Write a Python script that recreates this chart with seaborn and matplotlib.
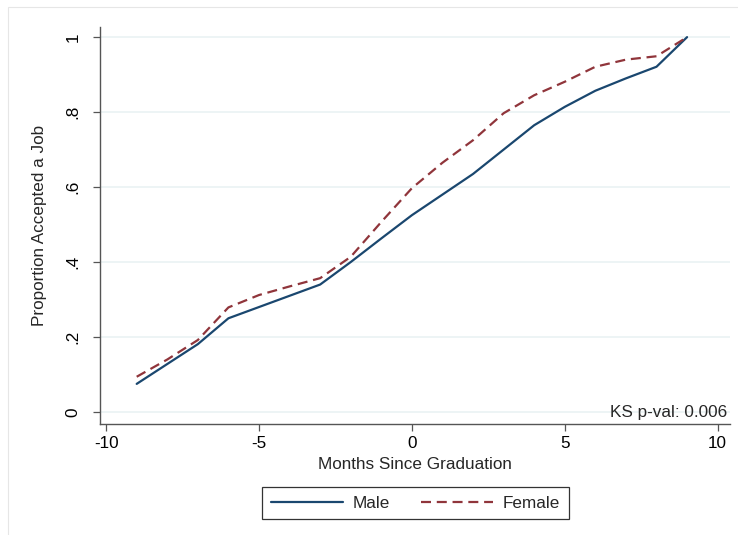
import seaborn as sns
import matplotlib.pyplot as plt
import matplotlib.patches as mpatches
import pandas as pd

# months relative to graduation
months = [-9, -8, -7, -6, -5, -4, -3, -2, -1, 0, 1, 2, 3, 4, 5, 6, 7, 8, 9]

# cumulative share who accepted a job offer
male = [0.075, 0.128, 0.181, 0.25, 0.28, 0.31, 0.34, 0.40, 0.463, 0.525,
        0.58, 0.635, 0.70, 0.765, 0.814, 0.857, 0.89, 0.921, 1.0]
female = [0.094, 0.14, 0.192, 0.279, 0.312, 0.335, 0.357, 0.414, 0.507, 0.597,
          0.665, 0.725, 0.797, 0.845, 0.881, 0.921, 0.94, 0.949, 1.0]

ks_label = "KS p-val: 0.006"
yticks = [0, 0.2, 0.4, 0.6, 0.8, 1.0]
ytick_labels = ["0", ".2", ".4", ".6", ".8", "1"]
xticks = [-10, -5, 0, 5, 10]

df = pd.DataFrame({
    'month': months * 2,
    'share': male + female,
    'sex': ['Male'] * len(months) + ['Female'] * len(months),
})

sns.set_theme(style="white")
plt.rcParams['font.family'] = ['Liberation Sans', 'DejaVu Sans']

fig = plt.figure(figsize=(7.38, 5.35), dpi=100)
ax = fig.add_axes([0.1355, 0.2075, 0.8535, 0.742])

# faint outer frame
fig.patches.append(mpatches.Rectangle((8 / 738, -0.01), 1.0, 1 - 7 / 535 + 0.01,
                                      transform=fig.transFigure, fill=False,
                                      edgecolor='#e6e6e6', linewidth=0.8))

colors = {'Male': '#1a476f', 'Female': '#90353b'}
sns.lineplot(data=df[df['sex'] == 'Male'], x='month', y='share', ax=ax,
             color=colors['Male'], linewidth=1.6, label='Male')
sns.lineplot(data=df[df['sex'] == 'Female'], x='month', y='share', ax=ax,
             color=colors['Female'], linewidth=1.6, linestyle=(0, (4.5, 2.6)),
             label='Female')

ax.set_xlim(-10.2, 10.4)
ax.set_ylim(-0.032, 1.027)
ax.set_yticks(yticks)
ax.set_yticklabels(ytick_labels, rotation=90, va='center')
ax.set_xticks(xticks)
ax.set_xticklabels([str(t) for t in xticks])

ax.grid(axis='y', color='#eaf2f3', linewidth=1.2)
ax.grid(axis='x', visible=False)
ax.set_axisbelow(True)

for side in ['top', 'right']:
    ax.spines[side].set_visible(False)
for side in ['left', 'bottom']:
    ax.spines[side].set_color('#555555')
    ax.spines[side].set_linewidth(1.0)

ax.tick_params(axis='both', direction='out', length=5, width=0.9, color='#555555',
               labelsize=12.3, labelcolor='black', pad=4)
ax.tick_params(axis='x', bottom=True)
ax.tick_params(axis='y', left=True, pad=9)

ax.set_xlabel("Months Since Graduation", fontsize=12.3, labelpad=4)
ax.set_ylabel("Proportion Accepted a Job", fontsize=12.3, labelpad=13)

ax.text(0.996, 0.01, ks_label, transform=ax.transAxes,
        ha='right', va='bottom', fontsize=12.3)

leg = ax.legend(loc='center', bbox_to_anchor=(415.5 / 738, 1 - 503 / 535),
                bbox_transform=fig.transFigure, ncol=2, frameon=True,
                fontsize=12.3, handlelength=4.2, columnspacing=1.8,
                handletextpad=0.6, borderpad=0.5, fancybox=False)
leg.get_frame().set_edgecolor('black')
leg.get_frame().set_linewidth(0.9)

fig.savefig("out.png", dpi=100, facecolor='white')
